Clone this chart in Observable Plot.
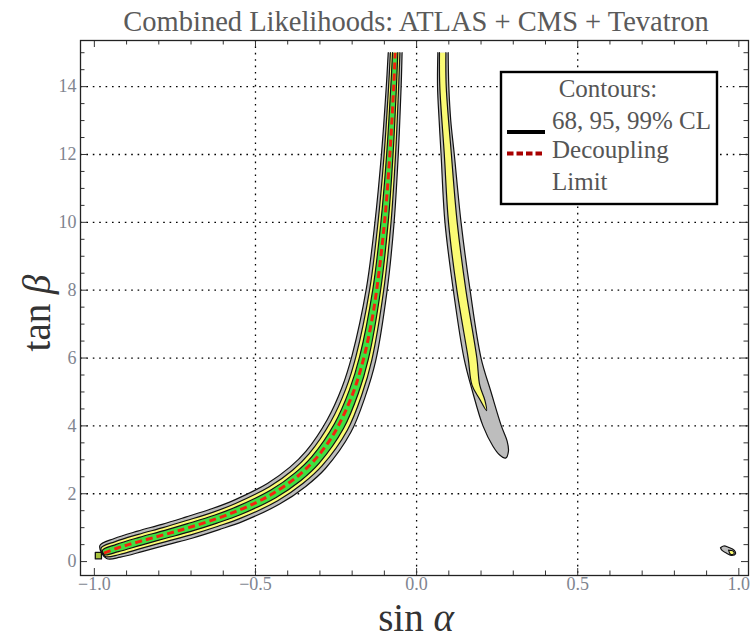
<!DOCTYPE html>
<html><head><meta charset="utf-8">
<script src="https://cdn.jsdelivr.net/npm/d3@7"></script>
<script src="https://cdn.jsdelivr.net/npm/@observablehq/plot@0.6"></script>
<style>
html,body{margin:0;padding:0;background:#fff;}
#wrap{position:relative;width:751px;height:641px;overflow:hidden;}
#wrap > svg{position:absolute;left:0;top:0;}
</style></head><body><div id="wrap"></div>
<script>
// ---------- ticks / grid ----------
const xMajorTicks = [-1, -0.5, 0, 0.5, 1];
const xMinorTicks = [-0.9,-0.8,-0.7,-0.6,-0.4,-0.3,-0.2,-0.1,0.1,0.2,0.3,0.4,0.6,0.7,0.8,0.9];
const yMajorTicks = [0, 2, 4, 6, 8, 10, 12, 14];
const yMinorTicks = [0.5,1,1.5,2.5,3,3.5,4.5,5,5.5,6.5,7,7.5,8.5,9,9.5,10.5,11,11.5,12.5,13,13.5,14.5,15];
const xGridLines = [-0.5, 0, 0.5];
const yGridLines = [2, 4, 6, 8, 10, 12, 14];

// ---------- left band (sin a, tan b) ----------
const band99Upper = [[-0.983,0.47],[-0.938,0.68],[-0.866,0.898],[-0.790,1.098],[-0.717,1.311],[-0.636,1.556],[-0.566,1.813],[-0.463,2.305],[-0.393,2.784],[-0.343,3.256],[-0.277,4.19],[-0.232,5.124],[-0.2,6.087],[-0.156,8.044],[-0.129,10.026],[-0.109,12.016],[-0.094,14.01],[-0.088,15]];
const band99Lower = [[-0.962,0.09],[-0.919,0.13],[-0.849,0.302],[-0.772,0.502],[-0.697,0.689],[-0.6125,0.944],[-0.539,1.187],[-0.425,1.695],[-0.344,2.216],[-0.283,2.744],[-0.204,3.81],[-0.159,4.876],[-0.127,5.913],[-0.092,7.956],[-0.070,9.974],[-0.057,11.984],[-0.048,13.99],[-0.045,15]];
const band95Upper = [[-0.979,0.40],[-0.935,0.590],[-0.863,0.803],[-0.787,1.003],[-0.714,1.211],[-0.631,1.458],[-0.562,1.713],[-0.457,2.207],[-0.385,2.693],[-0.334,3.174],[-0.266,4.129],[-0.220,5.084],[-0.188,6.059],[-0.1455,8.03],[-0.1195,10.018],[-0.1007,12.011],[-0.0869,14.0],[-0.0813,15]];
const band95Lower = [[-0.966,0.15],[-0.922,0.21],[-0.852,0.397],[-0.775,0.597],[-0.7005,0.789],[-0.616,1.042],[-0.5435,1.287],[-0.431,1.793],[-0.352,2.307],[-0.293,2.826],[-0.215,3.871],[-0.170,4.916],[-0.139,5.941],[-0.1025,7.97],[-0.0795,9.982],[-0.0653,11.989],[-0.0557,14.0],[-0.0518,15]];
const band68Upper = [[-0.975,0.33],[-0.932,0.506],[-0.861,0.713],[-0.784,0.913],[-0.711,1.118],[-0.628,1.366],[-0.558,1.619],[-0.451,2.116],[-0.378,2.608],[-0.325,3.097],[-0.2545,4.072],[-0.209,5.047],[-0.177,6.033],[-0.136,8.017],[-0.1107,10.01],[-0.0929,12.006],[-0.080,14],[-0.0747,15]];
const band68Lower = [[-0.968,0.20],[-0.925,0.294],[-0.854,0.487],[-0.778,0.687],[-0.703,0.882],[-0.6195,1.134],[-0.5475,1.381],[-0.437,1.884],[-0.359,2.392],[-0.302,2.903],[-0.2265,3.928],[-0.181,4.953],[-0.1497,5.967],[-0.112,7.983],[-0.0883,9.99],[-0.0731,11.994],[-0.0626,14],[-0.0583,15]];
const endCell = [[-0.997,0.08],[-0.978,0.08],[-0.978,0.27],[-0.997,0.27],[-0.997,0.08]];

// ---------- right band ----------
const right99Left = [[0.066,15],[0.065,14],[0.070,13],[0.076,12],[0.088,10],[0.114,8],[0.147,6],[0.174,5],[0.206,4],[0.237,3.4],[0.257,3.15],[0.276,3.05]];
const right99Right = [[0.285,3.25],[0.281,3.55],[0.263,4],[0.231,5],[0.200,6],[0.166,8],[0.138,10],[0.117,12],[0.106,13],[0.100,14],[0.098,15]];
const right95Left = [[0.071,15],[0.072,14],[0.086,12],[0.099,10],[0.125,8],[0.160,6],[0.172,5.2],[0.195,4.8],[0.217,4.45]];
const right95Right = [[0.212,4.75],[0.196,5.2],[0.187,6],[0.153,8],[0.126,10],[0.108,12],[0.092,14],[0.091,15]];

// ---------- small island near sin a = 1 ----------
const island99 = [[0.943,0.41],[0.953,0.46],[0.968,0.42],[0.986,0.33],[0.990,0.23],[0.978,0.18],[0.963,0.24],[0.948,0.33],[0.943,0.41]];
const island95 = [[0.968,0.34],[0.983,0.31],[0.985,0.23],[0.975,0.21],[0.968,0.34]];

// ---------- decoupling limit ----------
const decoupling = [[-0.970,0.25],[-0.928,0.4],[-0.894,0.5],[-0.857,0.6],[-0.819,0.7],[-0.781,0.8],[-0.743,0.9],[-0.707,1.0],[-0.625,1.25],[-0.555,1.5],[-0.496,1.75],[-0.447,2.0],[-0.371,2.5],[-0.316,3.0],[-0.275,3.5],[-0.243,4.0],[-0.196,5.0],[-0.164,6.0],[-0.141,7.0],[-0.124,8.0],[-0.0995,10.0],[-0.083,12.0],[-0.071,14.0],[-0.0665,15.0]];

const GRAY = "#bdbdbd", YELLOW = "#fbfb74", GREEN = "#40e040", RED = "#f2230f";
const W = 751, H = 641, mL = 80, mR = 3, mT = 40, mB = 66;
const innerW = W - mL - mR, innerH = H - mT - mB;

const leftRing = (up, lo) => [...up.slice().reverse(), ...lo];
const rightRing = (l, r) => [...l, ...r];
const X = d => d[0], Y = d => d[1];
const region = (pts, fill) => Plot.line(pts, {x: X, y: Y, fill, stroke: "#111", strokeWidth: 1.2, curve: "catmull-rom"});

const chart = Plot.plot({
  width: W, height: H,
  marginLeft: mL, marginRight: mR, marginTop: mT, marginBottom: mB,
  style: {fontFamily: "'Liberation Serif', 'DejaVu Serif', serif", background: "transparent"},
  x: {domain: [-1.043, 1.03], label: null},
  y: {domain: [-0.41, 15.36], label: null},
  marks: [
    Plot.ruleX(xGridLines, {x: d => d, stroke: "#000", strokeWidth: 1.3, strokeDasharray: "1.6,4.8"}),
    Plot.ruleY(yGridLines, {y: d => d, stroke: "#000", strokeWidth: 1.3, strokeDasharray: "1.6,4.8"}),
    region(rightRing(right99Left, right99Right), GRAY),
    region(rightRing(right95Left, right95Right), YELLOW),
    region(leftRing(band99Upper, band99Lower), GRAY),
    region(leftRing(band95Upper, band95Lower), YELLOW),
    region(leftRing(band68Upper, band68Lower), GREEN),
    Plot.line(endCell, {x: X, y: Y, fill: "#a9c43c", stroke: "#111", strokeWidth: 1.3}),
    region(island99, GRAY),
    region(island95, YELLOW),
    Plot.line(decoupling, {x: X, y: Y, stroke: RED, strokeWidth: 3, strokeDasharray: "7,4", strokeLinecap: "butt", curve: "catmull-rom"}),
    // inward ticks on four sides
    Plot.tickX(xMajorTicks, {x: d => d, insetTop: innerH - 7, stroke: "#333"}),
    Plot.tickX(xMajorTicks, {x: d => d, insetBottom: innerH - 7, stroke: "#333"}),
    Plot.tickX(xMinorTicks, {x: d => d, insetTop: innerH - 4.5, stroke: "#333"}),
    Plot.tickX(xMinorTicks, {x: d => d, insetBottom: innerH - 4.5, stroke: "#333"}),
    Plot.tickY(yMajorTicks, {y: d => d, insetRight: innerW - 7, stroke: "#333"}),
    Plot.tickY(yMajorTicks, {y: d => d, insetLeft: innerW - 7, stroke: "#333"}),
    Plot.tickY(yMinorTicks, {y: d => d, insetRight: innerW - 4.5, stroke: "#333"}),
    Plot.tickY(yMinorTicks, {y: d => d, insetLeft: innerW - 4.5, stroke: "#333"}),
    Plot.axisX(xMajorTicks, {anchor: "bottom", tickSize: 0, tickPadding: 2, tickFormat: d3.format(".1f"), fontSize: 18, color: "#7f8590"}),
    Plot.axisY(yMajorTicks, {anchor: "left", tickSize: 0, tickPadding: 4, tickFormat: d => String(d), fontSize: 18, color: "#7f8590"}),
    Plot.frame({stroke: "#222", strokeWidth: 1.3})
  ]
});
document.getElementById("wrap").appendChild(chart);

// ---------- overlay: title, axis titles, legend ----------
const ov = d3.select("#wrap").append("svg").attr("width", W).attr("height", H)
  .style("font-family", "'Liberation Serif', 'DejaVu Serif', serif");
ov.append("text").attr("x", 416).attr("y", 31).attr("text-anchor", "middle")
  .attr("font-size", 28.5).attr("fill", "#5a5a5a").text("Combined Likelihoods: ATLAS + CMS + Tevatron");
const xl = ov.append("text").attr("x", 416).attr("y", 631).attr("text-anchor", "middle")
  .attr("font-size", 39).attr("fill", "#333");
xl.append("tspan").text("sin ");
xl.append("tspan").attr("font-style", "italic").text("α");
const yl = ov.append("text").attr("transform", "translate(50,313) rotate(-90)").attr("text-anchor", "middle")
  .attr("font-size", 39).attr("fill", "#333");
yl.append("tspan").text("tan ");
yl.append("tspan").attr("font-style", "italic").text("β");

const lg = ov.append("g");
lg.append("rect").attr("x", 501).attr("y", 72).attr("width", 216).attr("height", 132)
  .attr("fill", "#fff").attr("stroke", "#000").attr("stroke-width", 2.4);
const lt = (x, y, s, anchor) => lg.append("text").attr("x", x).attr("y", y).attr("text-anchor", anchor || "start")
  .attr("font-size", 25).attr("fill", "#555").text(s);
lt(608, 97, "Contours:", "middle");
lg.append("line").attr("x1", 507).attr("x2", 545).attr("y1", 132).attr("y2", 132).attr("stroke", "#000").attr("stroke-width", 4);
lt(552, 128.5, "68, 95, 99% CL");
lg.append("line").attr("x1", 507).attr("x2", 545).attr("y1", 153.5).attr("y2", 153.5).attr("stroke", "#a80000").attr("stroke-width", 4).attr("stroke-dasharray", "6.5,3");
lt(552, 158, "Decoupling");
lt(552, 190, "Limit");
</script>
</body></html>
